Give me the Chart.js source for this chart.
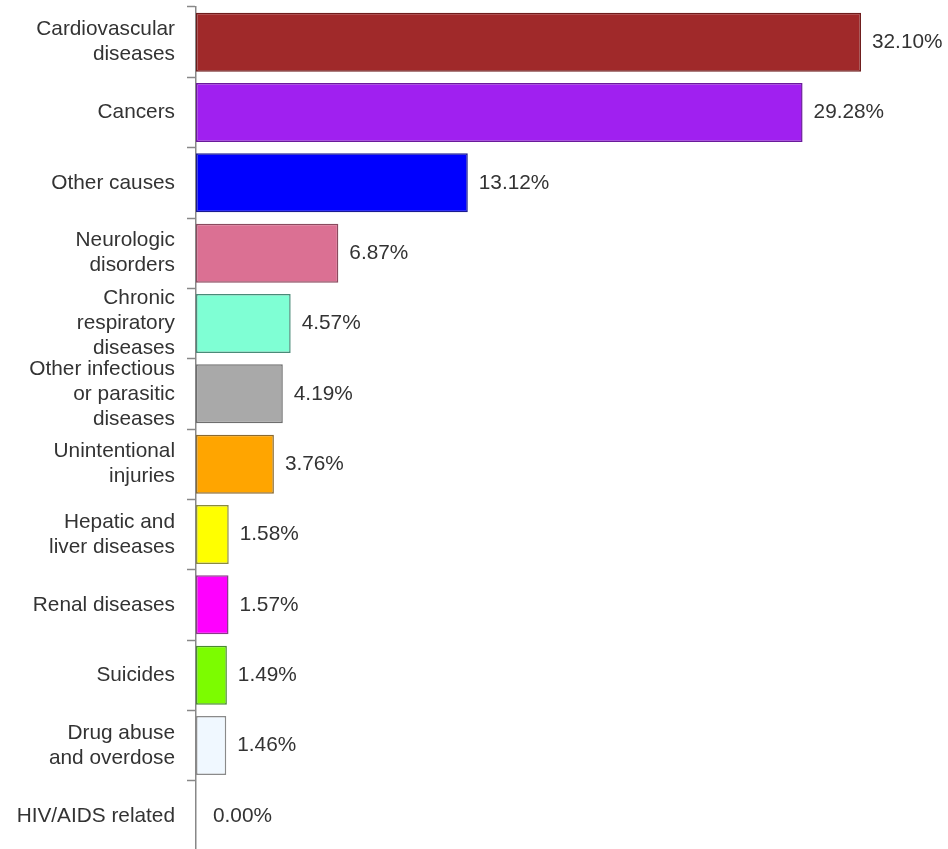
<!DOCTYPE html>
<html>
<head>
<meta charset="utf-8">
<script src="https://cdn.jsdelivr.net/npm/chart.js@4"></script>
<style>
  html, body { margin: 0; padding: 0; background: #fff; overflow: hidden; }
  #wrap { width: 948px; height: 852px; }
</style>
</head>
<body>
<div id="wrap"><canvas id="causeChart"></canvas></div>
<script>
// categories, top to bottom
const causes = [
  ["Cardiovascular", "diseases"],
  "Cancers",
  "Other causes",
  ["Neurologic", "disorders"],
  ["Chronic", "respiratory", "diseases"],
  ["Other infectious", "or parasitic", "diseases"],
  ["Unintentional", "injuries"],
  ["Hepatic and", "liver diseases"],
  "Renal diseases",
  "Suicides",
  ["Drug abuse", "and overdose"],
  "HIV/AIDS related"
];

// share of deaths (%)
const shares = [32.10, 29.28, 13.12, 6.87, 4.57, 4.19, 3.76, 1.58, 1.57, 1.49, 1.46, 0.00];

const barColors = [
  "#A0292A", "#A020F0", "#0000FF", "#DB7093", "#7FFFD4", "#A9A9A9",
  "#FFA500", "#FFFF00", "#FF00FF", "#7CFC00", "#F0F8FF", "#FFFFFF"
];

const borderColors = [
  "#6e1c1c", "#6a1a9a", "#1a1a90", "#8a4a5e", "#4a8a78", "#6e6e6e",
  "#8a6a30", "#8a8a40", "#8a3a8a", "#4a8a30", "#8a8a8a", "#8a8a8a"
];

const FONT = "'Liberation Sans', Arial, sans-serif";

// draws the "xx.xx%" text right of each bar
const valueLabels = {
  id: "valueLabels",
  afterDatasetsDraw(chart) {
    const c = chart.ctx;
    const meta = chart.getDatasetMeta(0);
    c.save();
    c.font = "20.8px " + FONT;
    c.fillStyle = "#333";
    c.textAlign = "left";
    c.textBaseline = "middle";
    meta.data.forEach((bar, i) => {
      const v = shares[i];
      const off = v === 0 ? 17 : 11;
      c.fillText(v.toFixed(2) + "%", bar.x + off, bar.y);
    });
    c.restore();
  }
};

new Chart(document.getElementById("causeChart"), {
  type: "bar",
  data: {
    labels: causes,
    datasets: [{
      data: shares,
      backgroundColor: barColors,
      borderColor: borderColors,
      borderWidth: 1.5,
      borderSkipped: false,
      barPercentage: 0.84,
      categoryPercentage: 1
    }]
  },
  options: {
    indexAxis: "y",
    responsive: true,
    maintainAspectRatio: false,
    animation: false,
    layout: { padding: { top: 7, bottom: 1, left: 0, right: 0 } },
    plugins: {
      legend: { display: false },
      tooltip: { enabled: false }
    },
    scales: {
      x: {
        display: false,
        min: 0,
        max: 36.3
      },
      y: {
        afterFit(scale) {
          scale.width = 196;
          scale.paddingTop = 0;
          scale.paddingBottom = 0;
        },
        grid: {
          drawOnChartArea: false,
          drawTicks: true,
          tickLength: 9,
          tickColor: "#888",
          tickWidth: 1.5,
          offset: true
        },
        border: { display: true, color: "#888", width: 1.5 },
        ticks: {
          autoSkip: false,
          color: "#333",
          padding: 12,
          font: { family: FONT, size: 20.8, lineHeight: 1.2 }
        }
      }
    }
  },
  plugins: [valueLabels]
});
</script>
</body>
</html>
